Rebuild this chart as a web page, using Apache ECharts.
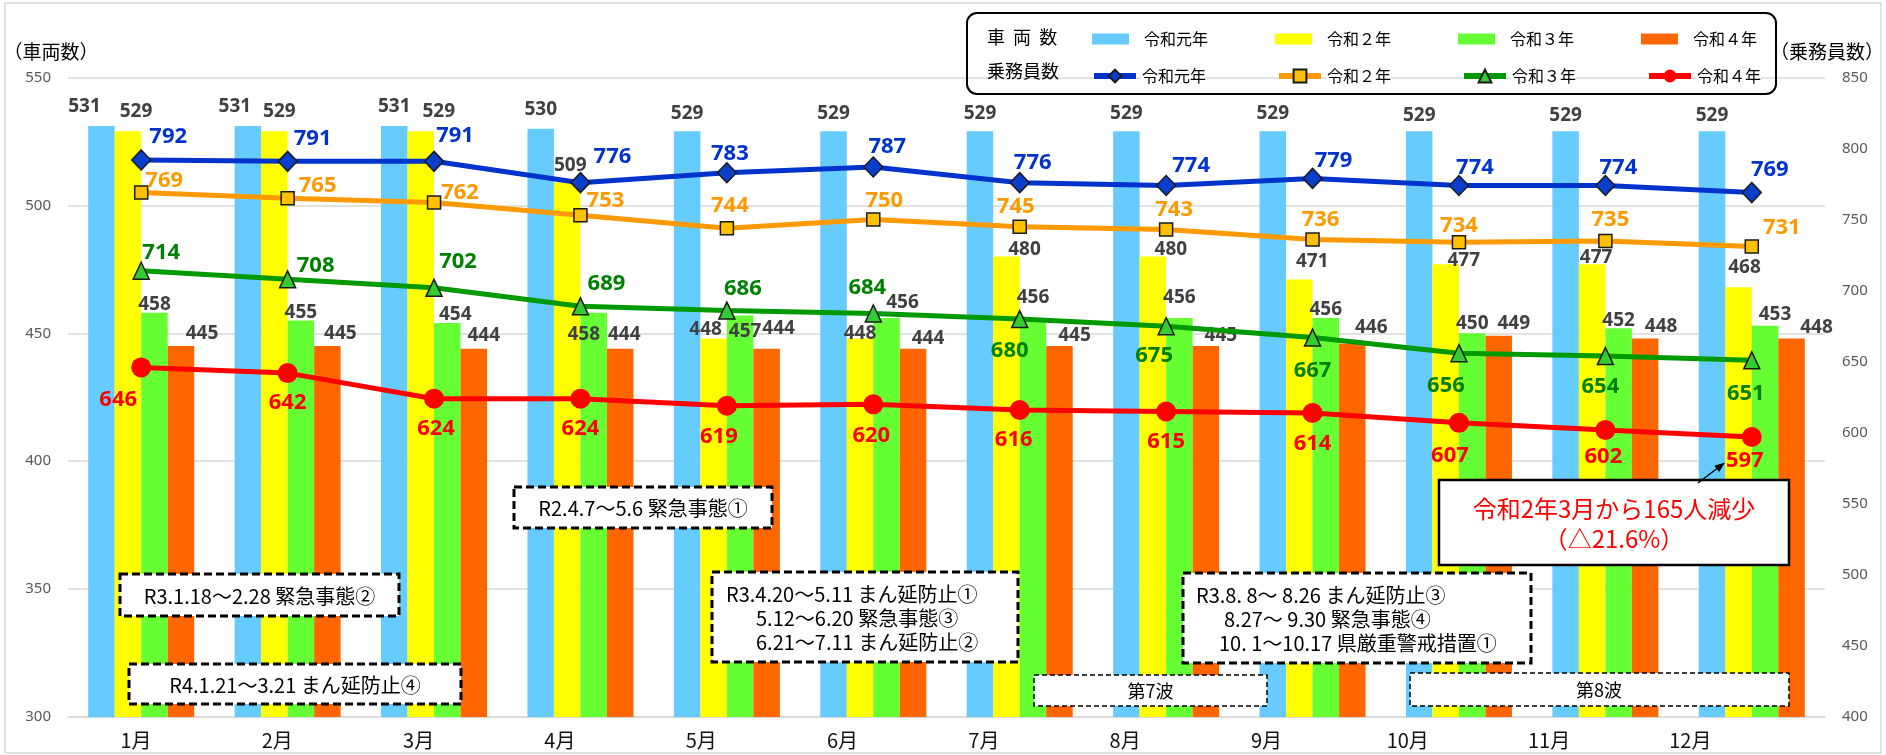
<!DOCTYPE html>
<html>
<head>
<meta charset="utf-8">
<script src="https://cdn.jsdelivr.net/npm/echarts@6/dist/echarts.min.js"></script>
<style>
html,body{margin:0;padding:0;background:#fff;}
#chart{width:1886px;height:755px;}
</style>
</head>
<body>
<div id="chart"></div>
<script>
// ---- data ----
const months = ['1月','2月','3月','4月','5月','6月','7月','8月','9月','10月','11月','12月'];
const yearNames = ['令和元年','令和２年','令和３年','令和４年'];
const vehR1 = [531,531,531,530,529,529,529,529,529,529,529,529];
const vehR2 = [529,529,529,509,448,448,480,480,471,477,477,468];
const vehR3 = [458,455,454,458,457,456,456,456,456,450,452,453];
const vehR4 = [445,445,444,444,444,444,445,445,446,449,448,448];
const crewR1 = [792,791,791,776,783,787,776,774,779,774,774,769];
const crewR2 = [769,765,762,753,744,750,745,743,736,734,735,731];
const crewR3 = [714,708,702,689,686,684,680,675,667,656,654,651];
const crewR4 = [646,642,624,624,619,620,616,615,614,607,602,597];
const leftAxis = {min:300, max:550, step:50};
const rightAxis = {min:400, max:850, step:50};

// ---- label offsets (style, not data) ----
const offV1 = [[-17,-20],[-13,-20],[0,-20],[0,-19],[0,-18],[0,-18],[0,-18],[0,-18],[0,-18],[0,-16],[0,-16],[0,-16]];
const offV2 = [[8,-20],[5,-20],[18,-20],[3,-17],[-8,-9],[0,-5],[18,-7],[18,-7],[13,-18],[18,-4],[4,-7],[6,-20]];
const offV3 = [[0,-8],[0,-8],[8,-8],[-10,22],[5,16],[16,-15],[0,-20],[0,-20],[0,-8],[0,-10],[0,-8],[10,-11]];
const offV4 = [[21,-12],[13,-12],[10,-13],[4,-14],[12,-20],[15,-10],[15,-10],[15,-10],[19,-16],[15,-12],[16,-12],[25,-11]];
const offC1 = [[27,-23],[25,-23],[21,-26],[32,-26],[3,-19],[14,-20],[13,-20],[25,-20],[21,-18],[16,-18],[13,-18],[18,-23]];
const offC2 = [[23,-12],[30,-13],[26,-10],[25,-15],[3,-22],[11,-19],[-4,-20],[8,-20],[8,-20],[0,-17],[5,-21],[30,-19]];
const offC3 = [[20,-18],[28,-14],[24,-26],[26,-23],[16,-22],[-6,-26],[-10,32],[-12,30],[0,33],[-13,33],[-5,31],[-6,33]];
const offC4 = [[-23,32],[0,30],[2,30],[0,30],[-8,31],[-2,31],[-6,30],[0,30],[0,31],[-9,33],[-2,27],[-7,24]];

const numFont = 'Noto Sans';
const jpFont = '"Noto Sans CJK JP", "Noto Sans", sans-serif';

function pts(values, offs){
  return values.map((v,i)=>({value:v, label:{offset:offs[i]}}));
}
function barSeries(idx, values, offs, color){
  return {
    name: '車両数 ' + yearNames[idx], type:'bar', xAxisIndex:0, yAxisIndex:0,
    data: pts(values, offs), barGap:'0%', barCategoryGap:'27.6%', z:2,
    itemStyle:{color:color},
    label:{show:true, position:['50%',0], align:'center', verticalAlign:'middle',
      fontFamily:numFont, fontWeight:'bold', fontSize:19, color:'#404040'}
  };
}
function lineSeries(idx, values, offs, color, symbol, size, mColor, labelColor, border){
  return {
    name: '乗務員数 ' + yearNames[idx], type:'line', xAxisIndex:0, yAxisIndex:1,
    data: pts(values, offs), z:5, symbol:symbol, symbolSize:size,
    lineStyle:{color:color, width:5},
    itemStyle:{color:mColor, borderColor:border ? '#1a1a1a' : mColor, borderWidth:border ? 1.5 : 0},
    label:{show:true, position:['50%','50%'], align:'center', verticalAlign:'middle',
      fontFamily:numFont, fontWeight:'bold', fontSize:22, color:labelColor},
    emphasis:{disabled:true}
  };
}

function box(x, y, w, h, thick){
  return {type:'rect', z:100, shape:{x:x, y:y, width:w, height:h},
    style:{fill:'#fff', stroke:'#000', lineWidth: thick ? 3 : 1.5, lineDash: thick ? [8,4] : [5,3]}};
}
function txt(x, y, s, opts){
  opts = opts || {};
  return {type:'text', z:101, x:x, y:y,
    style:{text:s, fontFamily:jpFont, fontSize:opts.size || 20, fill:opts.color || '#000',
      textAlign:opts.align || 'left', textVerticalAlign:'middle', fontWeight:opts.weight || 'normal'}};
}

const chart = echarts.init(document.getElementById('chart'), null, {renderer:'canvas'});
const option = {
  animation:false,
  backgroundColor:'#fff',
  grid:[
    {left:68, right:61, top:77.5, bottom:38},
    {left:65.35, right:125, top:77.5, bottom:38}
  ],
  legend:[
    {data:['車両数 令和元年','車両数 令和２年','車両数 令和３年','車両数 令和４年'],
     left:1087, top:26, orient:'horizontal', icon:'rect', itemWidth:37, itemHeight:11, itemGap:67, z:10,
     formatter:n=>n.split(' ')[1], selectedMode:false,
     textStyle:{fontFamily:jpFont, fontSize:16, color:'#000', padding:[0,0,0,10]}},
    {data:['乗務員数 令和元年','乗務員数 令和２年','乗務員数 令和３年','乗務員数 令和４年'],
     left:1086, top:63, orient:'horizontal', itemWidth:42, itemHeight:16, itemGap:70, z:10,
     formatter:n=>n.split(' ')[1], selectedMode:false,
     lineStyle:{width:6},
     textStyle:{fontFamily:jpFont, fontSize:16, color:'#000', padding:[0,0,0,1], backgroundColor:'#fff'}}
  ],
  xAxis:[
    {type:'category', gridIndex:0, data:months,
     axisLine:{show:true, lineStyle:{color:'#d9d9d9', width:1.5}}, axisTick:{show:false}, axisLabel:{show:false}},
    {type:'category', gridIndex:1, data:months,
     axisLine:{show:false}, axisTick:{show:false},
     axisLabel:{show:true, interval:0, margin:13, fontFamily:jpFont, fontSize:20, color:'#111'}}
  ],
  yAxis:[
    {type:'value', gridIndex:0, min:leftAxis.min, max:leftAxis.max, interval:leftAxis.step, position:'left',
     axisLine:{show:false}, axisTick:{show:false},
     splitLine:{show:true, lineStyle:{color:'#d9d9d9', width:1.5}},
     axisLabel:{margin:17, fontFamily:numFont, fontSize:15, color:'#595959'}},
    {type:'value', gridIndex:0, min:rightAxis.min, max:rightAxis.max, interval:rightAxis.step, position:'right',
     axisLine:{show:false}, axisTick:{show:false}, splitLine:{show:false},
     axisLabel:{margin:17, fontFamily:numFont, fontSize:15, color:'#595959'}},
    {type:'value', gridIndex:1, show:false, min:0, max:1}
  ],
  series:[
    barSeries(0, vehR1, offV1, '#66CCFF'),
    barSeries(1, vehR2, offV2, '#FFFF00'),
    barSeries(2, vehR3, offV3, '#66FF33'),
    barSeries(3, vehR4, offV4, '#FF6600'),
    lineSeries(0, crewR1, offC1, '#0033CC', 'diamond', [19,20], '#0A3FCC', '#0033CC', true),
    lineSeries(1, crewR2, offC2, '#FF9900', 'rect', 13, '#FFC000', '#FF9900', true),
    lineSeries(2, crewR3, offC3, '#009900', 'triangle', [16,17], '#33CC33', '#008000', true),
    lineSeries(3, crewR4, offC4, '#FF0000', 'circle', 20, '#FF0000', '#FF0000', false)
  ],
  graphic:[
    {type:'rect', z:0, silent:true, shape:{x:5, y:3, width:1876, height:750},
     style:{fill:null, stroke:'#d9d9d9', lineWidth:1.5}},
    // axis titles
    txt(51, 52, '（車両数）', {size:19, align:'center'}),
    txt(1827, 52, '（乗務員数）', {size:19, align:'center'}),
    // legend frame (no fill, drawn under legend items)
    {type:'rect', z:1, silent:true, shape:{x:967, y:13, width:809, height:81, r:10},
     style:{fill:null, stroke:'#000', lineWidth:2}},
    txt(987, 37, '車  両  数', {size:18}),
    txt(987, 71, '乗務員数', {size:18}),
    // annotation boxes
    box(120, 574, 279, 42, true),
    txt(259.5, 596, 'R3.1.18～2.28 緊急事態②', {align:'center'}),
    box(129, 664, 332, 40, true),
    txt(295, 685, 'R4.1.21～3.21 まん延防止④', {align:'center'}),
    box(514, 487, 258, 41, true),
    txt(643, 508, 'R2.4.7～5.6 緊急事態①', {align:'center'}),
    box(712, 572, 306, 90, true),
    txt(726, 594, 'R3.4.20～5.11 まん延防止①'),
    txt(756, 618, '5.12～6.20 緊急事態③'),
    txt(756, 642, '6.21～7.11 まん延防止②'),
    box(1183, 573, 348, 90, true),
    txt(1196, 595, 'R3.8. 8～ 8.26 まん延防止③'),
    txt(1224, 619, '8.27～ 9.30 緊急事態④'),
    txt(1219, 643, '10. 1～10.17 県厳重警戒措置①'),
    box(1034, 675, 233, 31, false),
    txt(1150.5, 691, '第7波', {align:'center', size:18}),
    box(1410, 673, 379, 33, false),
    txt(1599, 690, '第8波', {align:'center', size:18}),
    // red callout
    {type:'rect', z:100, shape:{x:1439, y:480, width:350, height:85},
     style:{fill:'#fff', stroke:'#000', lineWidth:2.5}},
    txt(1614, 509, '令和2年3月から165人減少', {align:'center', size:24, color:'#FF0000'}),
    txt(1614, 539, '（△21.6%）', {align:'center', size:24, color:'#FF0000'}),
    {type:'line', z:100, shape:{x1:1698, y1:483, x2:1719, y2:467}, style:{stroke:'#000', lineWidth:1.5}},
    {type:'polygon', z:100, shape:{points:[[1725,462.5],[1719.2,472.1],[1714.4,465.7]]}, style:{fill:'#000'}}
  ]
};
chart.setOption(option);
</script>
</body>
</html>
